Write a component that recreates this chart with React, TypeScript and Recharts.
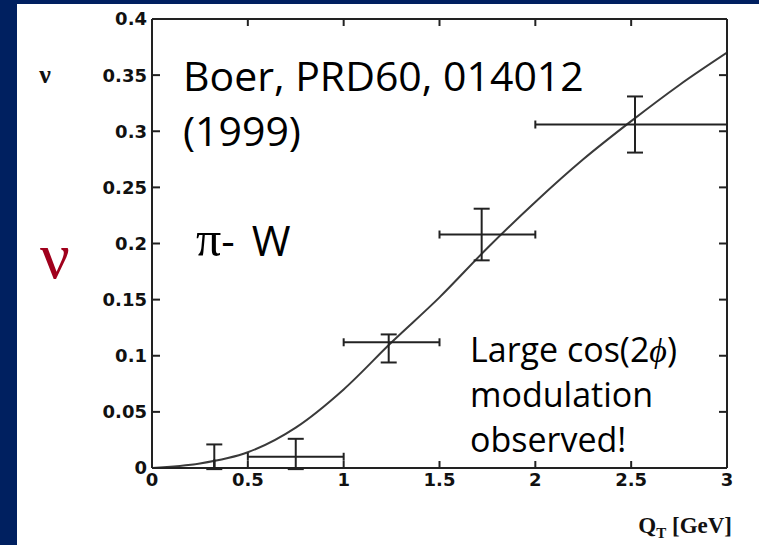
import { ComposedChart, Line, Scatter, ErrorBar, XAxis, YAxis } from 'recharts';

// Q_T axis [GeV] and nu axis ticks
const qtTicks = [0, 0.5, 1, 1.5, 2, 2.5, 3];
const nuTicks = [0, 0.05, 0.1, 0.15, 0.2, 0.25, 0.3, 0.35, 0.4];
const qtInnerTicks = [0.5, 1, 1.5, 2, 2.5];
const nuInnerTicks = [0.05, 0.1, 0.15, 0.2, 0.25, 0.3, 0.35];

// Boer model curve, sampled along Q_T
const curveQt = [0, 0.25, 0.5, 0.75, 1, 1.25, 1.5, 1.75, 2, 2.25, 2.5, 2.75, 3];
const curveNu = [0, 0.004, 0.014, 0.036, 0.07, 0.112, 0.152, 0.196, 0.237, 0.275, 0.309, 0.341, 0.37];

// pi- W data points: value, bin extent in Q_T and [down, up] errors in nu
const pointQt = [0.325, 0.75, 1.235, 1.72, 2.52];
const pointNu = [0.004, 0.01, 0.112, 0.208, 0.306];
const pointQtErr = [[0, 0], [0.25, 0.25], [0.235, 0.265], [0.22, 0.28], [0.52, 0.48]];
const pointNuErr = [[0.005, 0.017], [0.011, 0.016], [0.018, 0.007], [0.023, 0.023], [0.025, 0.025]];

const curve = curveQt.map((q, i) => ({ q, nu: curveNu[i] }));
const points = pointQt.map((q, i) => ({ q, nu: pointNu[i], eq: pointQtErr[i], enu: pointNuErr[i] }));

const NAVY = '#002060';
const INK = '#222';

const tickFont = { fill: '#111', fontSize: 18, fontFamily: 'DejaVu Sans', fontWeight: 700 };
const textFont = "'Open Sans', sans-serif";

// frame axes keep their tick marks but carry no labels
const NoLabel = () => <g />;

export default function App() {
    return (
        <div style={{ position: 'absolute', left: 0, top: 0, width: 759, height: 545, background: NAVY, overflow: 'hidden' }}>
            <div style={{ position: 'absolute', left: 17, top: 4, right: 0, bottom: 0, background: '#fff' }} />
            <div style={{ position: 'absolute', left: 0, top: 0 }}>
                <ComposedChart width={759} height={545} margin={{ top: 18, right: 31, left: 100, bottom: 47 }}>
                    <XAxis
                        xAxisId="bottom"
                        dataKey="q"
                        type="number"
                        domain={[0, 3]}
                        ticks={qtTicks}
                        allowDataOverflow
                        height={30}
                        stroke={INK}
                        strokeWidth={2}
                        tickSize={-7}
                        tickMargin={12}
                        tick={tickFont}
                    />
                    <XAxis
                        xAxisId="top"
                        orientation="top"
                        dataKey="q"
                        type="number"
                        domain={[0, 3]}
                        ticks={qtInnerTicks}
                        allowDataOverflow
                        height={1}
                        stroke={INK}
                        strokeWidth={2}
                        tickSize={-7}
                        tick={NoLabel}
                    />
                    <YAxis
                        yAxisId="left"
                        dataKey="nu"
                        type="number"
                        domain={[0, 0.4]}
                        ticks={nuTicks}
                        allowDataOverflow
                        width={52}
                        stroke={INK}
                        strokeWidth={2}
                        tickSize={-8}
                        tickMargin={13}
                        tick={tickFont}
                    />
                    <YAxis
                        yAxisId="right"
                        orientation="right"
                        dataKey="nu"
                        type="number"
                        domain={[0, 0.4]}
                        ticks={nuInnerTicks}
                        allowDataOverflow
                        width={1}
                        stroke={INK}
                        strokeWidth={2}
                        tickSize={-8}
                        tick={NoLabel}
                    />
                    {/* invisible copy of the curve so the frame axes (top / right) get drawn */}
                    <Line
                        xAxisId="top"
                        yAxisId="right"
                        data={curve}
                        dataKey="nu"
                        stroke="none"
                        dot={false}
                        activeDot={false}
                        isAnimationActive={false}
                    />
                    <Line
                        xAxisId="bottom"
                        yAxisId="left"
                        data={curve}
                        dataKey="nu"
                        type="monotone"
                        stroke="#3a3a3a"
                        strokeWidth={2}
                        dot={false}
                        isAnimationActive={false}
                    />
                    <Scatter
                        xAxisId="bottom"
                        yAxisId="left"
                        data={points}
                        dataKey="nu"
                        shape={() => <g />}
                        isAnimationActive={false}
                    >
                        <ErrorBar dataKey="eq" direction="x" width={4} stroke={INK} strokeWidth={2} isAnimationActive={false} />
                        <ErrorBar dataKey="enu" direction="y" width={8} stroke={INK} strokeWidth={2} isAnimationActive={false} />
                    </Scatter>
                </ComposedChart>
            </div>
            <svg width={759} height={545} style={{ position: 'absolute', left: 0, top: 0, pointerEvents: 'none' }}>
                <text x={45} y={83} textAnchor="middle" fontFamily="'Liberation Serif', serif" fontWeight={700} fontSize={26} fill="#111">ν</text>
                <text x={55} y={278} textAnchor="middle" fontFamily="'Liberation Serif', serif" fontSize={66} fill="#a0001c">ν</text>
                <text x={183} y={91} fontFamily={textFont} fontSize={41} fill="#000">Boer, PRD60, 014012</text>
                <text x={183} y={146} fontFamily={textFont} fontSize={41} fill="#000">(1999)</text>
                <text x={196} y={256} fontFamily={textFont} fontSize={42} fill="#000">
                    <tspan fontFamily="'Liberation Serif', serif" fontSize={50}>π</tspan>
                    <tspan>- </tspan>
                    <tspan dx={6}>W</tspan>
                </text>
                <text x={470} y={362} fontFamily={textFont} fontSize={34} fill="#000">
                    Large cos(2<tspan fontFamily="'Liberation Serif', serif" fontStyle="italic">ϕ</tspan>)
                </text>
                <text x={470} y={407} fontFamily={textFont} fontSize={34} fill="#000">modulation</text>
                <text x={470} y={452} fontFamily={textFont} fontSize={34} fill="#000">observed!</text>
                <text x={732} y={533} textAnchor="end" fontFamily="'Liberation Serif', serif" fontWeight={700} fontSize={23} fill="#111">
                    Q<tspan fontSize={15} dy={5}>T</tspan><tspan dy={-5}> [GeV]</tspan>
                </text>
            </svg>
        </div>
    );
}
